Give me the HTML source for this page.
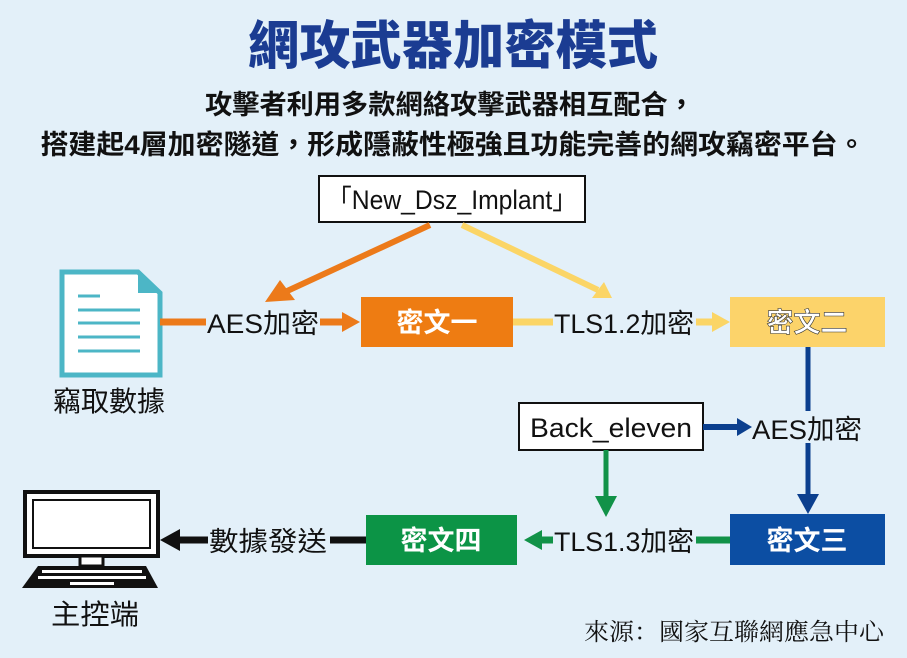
<!DOCTYPE html>
<html><head><meta charset="utf-8"><style>
body{margin:0;background:#e3f0f9;}
svg{display:block}
.t{font-family:"Liberation Sans","Noto Sans CJK TC",sans-serif;}
</style></head><body>
<svg width="907" height="658" viewBox="0 0 907 658" class="t">
<rect width="907" height="658" fill="#e3f0f9"/>
<text x="453" y="64" text-anchor="middle" font-size="52" font-weight="900" fill="#1b3c92" textLength="410" lengthAdjust="spacingAndGlyphs">網攻武器加密模式</text>
<text x="450" y="114" text-anchor="middle" font-size="27" font-weight="600" fill="#111" textLength="490" lengthAdjust="spacingAndGlyphs">攻擊者利用多款網絡攻擊武器相互配合，</text>
<text x="453" y="154" text-anchor="middle" font-size="27" font-weight="600" fill="#111" textLength="825" lengthAdjust="spacingAndGlyphs">搭建起4層加密隧道，形成隱蔽性極強且功能完善的網攻竊密平台。</text>

<rect x="319" y="176" width="266" height="46" fill="#fff" stroke="#111" stroke-width="2"/>
<text x="452" y="209" text-anchor="middle" font-size="27" fill="#111" textLength="250" lengthAdjust="spacingAndGlyphs">「New_Dsz_Implant」</text>
<line x1="430" y1="225" x2="285" y2="292" stroke="#ec7a1a" stroke-width="6"/>
<polygon points="265,302 280,280 295,300" fill="#ec7a1a"/>
<line x1="462" y1="225" x2="598" y2="290" stroke="#fbd566" stroke-width="6"/>
<polygon points="612,298 592,298 604,282" fill="#fbd566"/>

<path d="M62,272 H138 L160,293 V375 H62 Z" fill="#fff" stroke="#4cb6c6" stroke-width="5"/>
<path d="M138,272 V293 H160 Z" fill="#4cb6c6"/>
<g stroke="#4cb6c6" stroke-width="3"><line x1="78" y1="296" x2="100" y2="296"/><line x1="78" y1="310" x2="140" y2="310"/><line x1="78" y1="323" x2="140" y2="323"/><line x1="78" y1="337" x2="140" y2="337"/><line x1="78" y1="351" x2="140" y2="351"/></g>
<text x="109" y="411" text-anchor="middle" font-size="28" fill="#111" textLength="112" lengthAdjust="spacingAndGlyphs">竊取數據</text>

<line x1="160" y1="322" x2="345" y2="322" stroke="#ec7a1a" stroke-width="7"/>
<polygon points="360,322 342,312 342,332" fill="#ec7a1a"/>
<rect x="206" y="306" width="114" height="32" fill="#e3f0f9"/>
<text x="263" y="333" text-anchor="middle" font-size="27" fill="#111" textLength="112" lengthAdjust="spacingAndGlyphs">AES加密</text>
<rect x="361" y="297" width="152" height="50" fill="#ee7c12"/>
<text x="437" y="332" text-anchor="middle" font-size="27" font-weight="bold" fill="#fff">密文一</text>
<line x1="513" y1="322" x2="715" y2="322" stroke="#fbd566" stroke-width="7"/>
<polygon points="730,322 712,312 712,332" fill="#fbd566"/>
<rect x="553" y="306" width="143" height="32" fill="#e3f0f9"/>
<text x="624" y="333" text-anchor="middle" font-size="27" fill="#111" textLength="140" lengthAdjust="spacingAndGlyphs">TLS1.2加密</text>
<rect x="730" y="297" width="155" height="50" fill="#fcd36a"/>
<text x="807" y="332" text-anchor="middle" font-size="27" font-weight="bold" fill="#fff" stroke="#333" stroke-width="0.6">密文二</text>

<line x1="808" y1="347" x2="808" y2="498" stroke="#0b3f8e" stroke-width="5"/>
<polygon points="808,514 797,494 819,494" fill="#0b3f8e"/>
<rect x="519" y="403" width="184" height="47" fill="#fff" stroke="#111" stroke-width="2"/>
<text x="611" y="437" text-anchor="middle" font-size="27" fill="#111" textLength="162" lengthAdjust="spacingAndGlyphs">Back_eleven</text>
<line x1="703" y1="427" x2="740" y2="427" stroke="#0b3f8e" stroke-width="6"/>
<polygon points="752,427 737,418 737,436" fill="#0b3f8e"/>
<rect x="752" y="411" width="110" height="32" fill="#e3f0f9"/>
<text x="807" y="439" text-anchor="middle" font-size="27" fill="#111" textLength="110" lengthAdjust="spacingAndGlyphs">AES加密</text>
<line x1="606" y1="450" x2="606" y2="500" stroke="#119248" stroke-width="5"/>
<polygon points="606,517 595,496 617,496" fill="#119248"/>

<rect x="730" y="514" width="155" height="51" fill="#0c4ea3"/>
<text x="807" y="550" text-anchor="middle" font-size="27" font-weight="bold" fill="#fff">密文三</text>
<line x1="730" y1="540" x2="540" y2="540" stroke="#119248" stroke-width="7"/>
<polygon points="524,540 542,530 542,550" fill="#119248"/>
<rect x="553" y="524" width="143" height="32" fill="#e3f0f9"/>
<text x="624" y="551" text-anchor="middle" font-size="27" fill="#111" textLength="140" lengthAdjust="spacingAndGlyphs">TLS1.3加密</text>
<rect x="366" y="515" width="151" height="50" fill="#0c9446"/>
<text x="441" y="550" text-anchor="middle" font-size="27" font-weight="bold" fill="#fff">密文四</text>
<line x1="366" y1="540" x2="178" y2="540" stroke="#111" stroke-width="7"/>
<polygon points="160,540 180,529 180,551" fill="#111"/>
<rect x="208" y="524" width="122" height="32" fill="#e3f0f9"/>
<text x="268" y="551" text-anchor="middle" font-size="27" fill="#111" textLength="118" lengthAdjust="spacingAndGlyphs">數據發送</text>

<rect x="25" y="492" width="133" height="64" fill="#fff" stroke="#111" stroke-width="4"/>
<rect x="33" y="500" width="117" height="48" fill="#fff" stroke="#111" stroke-width="2"/>
<rect x="80" y="556" width="23" height="10" fill="#fff" stroke="#111" stroke-width="3"/>
<path d="M38,566 H146 L158,588 H22 Z" fill="#111"/>
<g fill="#fff"><rect x="42" y="570" width="100" height="3"/><rect x="38" y="576" width="108" height="3"/><rect x="70" y="582" width="44" height="3"/></g>
<text x="95" y="624" text-anchor="middle" font-size="28" fill="#111" textLength="88" lengthAdjust="spacingAndGlyphs">主控端</text>

<text x="884" y="640" text-anchor="end" font-size="24" fill="#111" font-family="'Liberation Serif','Noto Serif CJK SC',serif" textLength="300" lengthAdjust="spacingAndGlyphs">來源：國家互聯網應急中心</text>
</svg>
</body></html>
